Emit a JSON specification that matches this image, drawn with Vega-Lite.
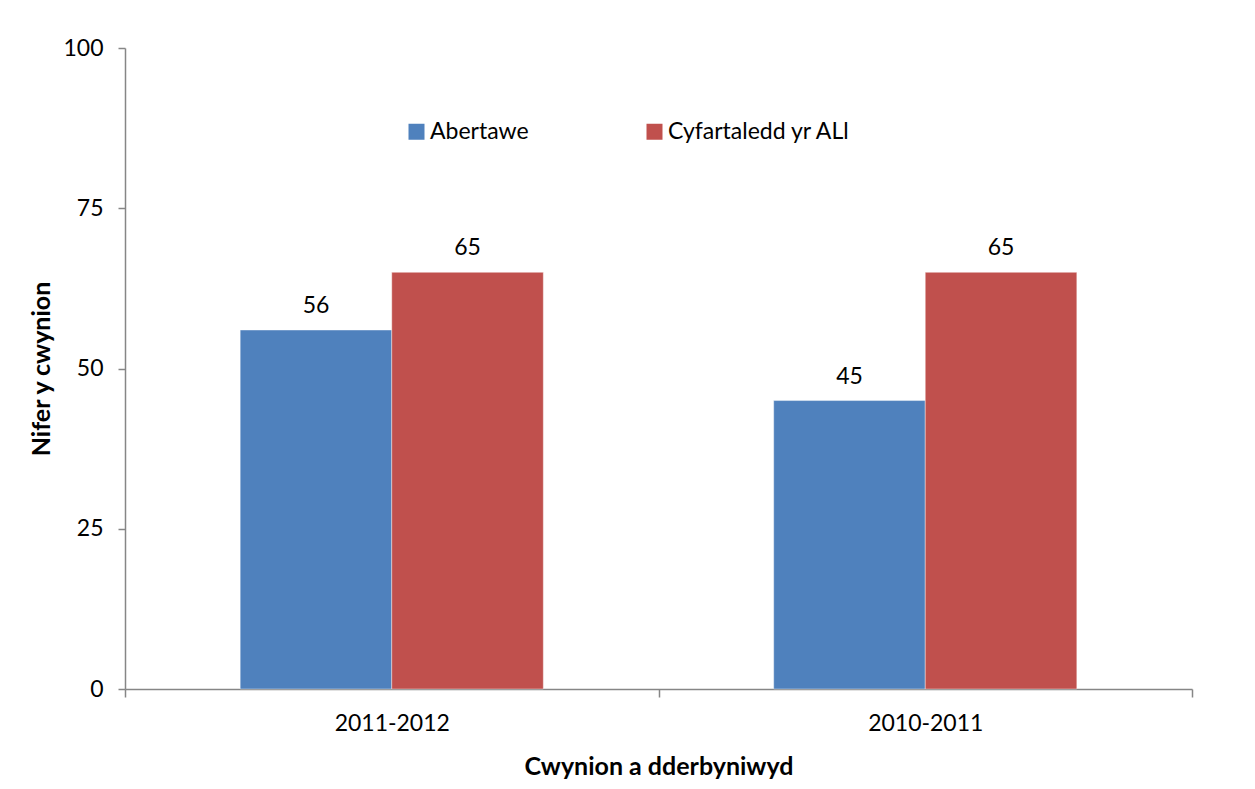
{
  "$schema": "https://vega.github.io/schema/vega-lite/v6.json",
  "width": 1067,
  "height": 641,
  "autosize": {"type": "none"},
  "padding": {"left": 125, "top": 48, "right": 63, "bottom": 100},
  "background": "white",
  "config": {
    "font": "Lato",
    "view": {"stroke": null},
    "axis": {"labelFont": "Lato", "titleFont": "Lato", "labelColor": "black", "titleColor": "black", "domainColor": "#868686", "tickColor": "#868686", "grid": false}
  },
  "data": {
    "values": [
      {"period": "2011-2012", "series": "Abertawe", "value": 56},
      {"period": "2011-2012", "series": "Cyfartaledd yr ALl", "value": 65},
      {"period": "2010-2011", "series": "Abertawe", "value": 45},
      {"period": "2010-2011", "series": "Cyfartaledd yr ALl", "value": 65}
    ]
  },
  "encoding": {
    "x": {
      "field": "period", "type": "nominal", "sort": ["2011-2012", "2010-2011"],
      "scale": {"paddingInner": 0, "paddingOuter": 0},
      "axis": {"title": "Cwynion a dderbyniwyd", "titleFontSize": 25, "titleFontWeight": "bold", "titlePadding": 19, "labelFontSize": 23, "labelAngle": 0, "labelPadding": 15, "tickBand": "extent", "tickSize": 8, "domainWidth": 1.5, "tickWidth": 1.5}
    },
    "xOffset": {"field": "series", "type": "nominal", "scale": {"paddingInner": 0, "paddingOuter": 0.76}},
    "y": {
      "field": "value", "type": "quantitative",
      "scale": {"domain": [0, 100]},
      "axis": {"title": "Nifer y cwynion", "titleFontSize": 25, "titleFontWeight": "bold", "titlePadding": 8, "labelFontSize": 23, "values": [0, 25, 50, 75, 100], "tickSize": 7, "labelPadding": 15, "domainWidth": 1.5, "tickWidth": 1.5}
    }
  },
  "layer": [
    {
      "mark": {"type": "bar", "stroke": "#ffffff", "strokeOpacity": 0.4, "strokeWidth": 1},
      "encoding": {
        "color": {
          "field": "series", "type": "nominal",
          "scale": {"domain": ["Abertawe", "Cyfartaledd yr ALl"], "range": ["#4F81BD", "#C0504D"]},
          "legend": {"title": null, "orient": "none", "legendX": 280, "legendY": 72, "direction": "horizontal", "symbolType": "square", "symbolSize": 256, "symbolStrokeWidth": 0, "labelFontSize": 23, "labelOffset": 2, "labelLimit": 500, "columnPadding": 114, "labelColor": "black"}
        }
      }
    },
    {
      "mark": {"type": "text", "baseline": "bottom", "dy": -12, "fontSize": 23, "color": "black"},
      "encoding": {"text": {"field": "value", "type": "quantitative"}}
    }
  ]
}
